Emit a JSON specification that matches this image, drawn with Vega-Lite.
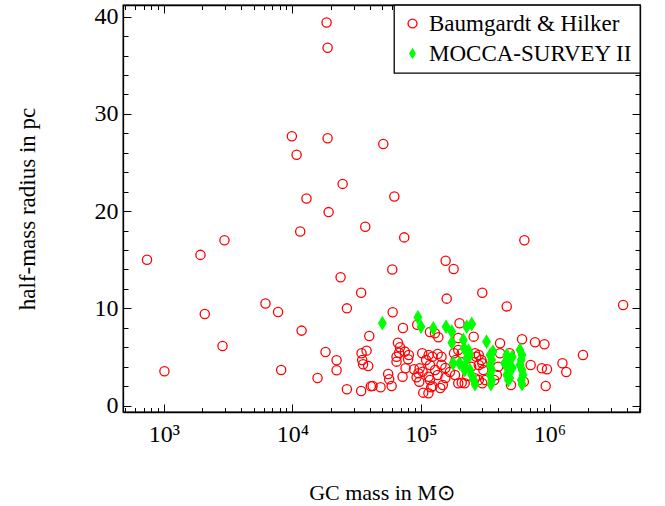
{
  "$schema": "https://vega.github.io/schema/vega-lite/v6.json",
  "width": 517,
  "height": 407,
  "autosize": {"type": "none"},
  "padding": {"left": 123, "top": 5, "right": 25, "bottom": 94},
  "background": "white",
  "data": {"values": [
    {"m": 18450, "r": 39.4, "s": "Baumgardt & Hilker"},
    {"m": 18790, "r": 36.8, "s": "Baumgardt & Hilker"},
    {"m": 9910, "r": 27.7, "s": "Baumgardt & Hilker"},
    {"m": 18790, "r": 27.5, "s": "Baumgardt & Hilker"},
    {"m": 50930, "r": 26.9, "s": "Baumgardt & Hilker"},
    {"m": 10790, "r": 25.8, "s": "Baumgardt & Hilker"},
    {"m": 24600, "r": 22.8, "s": "Baumgardt & Hilker"},
    {"m": 12880, "r": 21.3, "s": "Baumgardt & Hilker"},
    {"m": 62090, "r": 21.5, "s": "Baumgardt & Hilker"},
    {"m": 19140, "r": 19.9, "s": "Baumgardt & Hilker"},
    {"m": 11510, "r": 17.9, "s": "Baumgardt & Hilker"},
    {"m": 36900, "r": 18.4, "s": "Baumgardt & Hilker"},
    {"m": 74130, "r": 17.3, "s": "Baumgardt & Hilker"},
    {"m": 741, "r": 15.0, "s": "Baumgardt & Hilker"},
    {"m": 1930, "r": 15.5, "s": "Baumgardt & Hilker"},
    {"m": 2965, "r": 17.0, "s": "Baumgardt & Hilker"},
    {"m": 23710, "r": 13.2, "s": "Baumgardt & Hilker"},
    {"m": 59840, "r": 14.0, "s": "Baumgardt & Hilker"},
    {"m": 34280, "r": 11.6, "s": "Baumgardt & Hilker"},
    {"m": 6180, "r": 10.5, "s": "Baumgardt & Hilker"},
    {"m": 636800, "r": 17.0, "s": "Baumgardt & Hilker"},
    {"m": 155600, "r": 14.9, "s": "Baumgardt & Hilker"},
    {"m": 179500, "r": 14.05, "s": "Baumgardt & Hilker"},
    {"m": 158500, "r": 11.0, "s": "Baumgardt & Hilker"},
    {"m": 299900, "r": 11.6, "s": "Baumgardt & Hilker"},
    {"m": 464500, "r": 10.2, "s": "Baumgardt & Hilker"},
    {"m": 3733000, "r": 10.35, "s": "Baumgardt & Hilker"},
    {"m": 26550, "r": 10.0, "s": "Baumgardt & Hilker"},
    {"m": 60260, "r": 9.6, "s": "Baumgardt & Hilker"},
    {"m": 1012, "r": 3.53, "s": "Baumgardt & Hilker"},
    {"m": 2084, "r": 9.42, "s": "Baumgardt & Hilker"},
    {"m": 2864, "r": 6.13, "s": "Baumgardt & Hilker"},
    {"m": 7745, "r": 9.63, "s": "Baumgardt & Hilker"},
    {"m": 8185, "r": 3.66, "s": "Baumgardt & Hilker"},
    {"m": 11800, "r": 7.71, "s": "Baumgardt & Hilker"},
    {"m": 15700, "r": 2.84, "s": "Baumgardt & Hilker"},
    {"m": 18110, "r": 5.51, "s": "Baumgardt & Hilker"},
    {"m": 22080, "r": 4.66, "s": "Baumgardt & Hilker"},
    {"m": 22080, "r": 3.63, "s": "Baumgardt & Hilker"},
    {"m": 26550, "r": 1.68, "s": "Baumgardt & Hilker"},
    {"m": 34280, "r": 1.5, "s": "Baumgardt & Hilker"},
    {"m": 34510, "r": 5.38, "s": "Baumgardt & Hilker"},
    {"m": 37760, "r": 5.65, "s": "Baumgardt & Hilker"},
    {"m": 34910, "r": 4.69, "s": "Baumgardt & Hilker"},
    {"m": 35480, "r": 4.25, "s": "Baumgardt & Hilker"},
    {"m": 38900, "r": 4.07, "s": "Baumgardt & Hilker"},
    {"m": 39630, "r": 7.16, "s": "Baumgardt & Hilker"},
    {"m": 40740, "r": 2.0, "s": "Baumgardt & Hilker"},
    {"m": 72440, "r": 7.98, "s": "Baumgardt & Hilker"},
    {"m": 93540, "r": 8.32, "s": "Baumgardt & Hilker"},
    {"m": 117500, "r": 7.57, "s": "Baumgardt & Hilker"},
    {"m": 66220, "r": 6.47, "s": "Baumgardt & Hilker"},
    {"m": 68710, "r": 6.0, "s": "Baumgardt & Hilker"},
    {"m": 67610, "r": 5.44, "s": "Baumgardt & Hilker"},
    {"m": 64570, "r": 5.03, "s": "Baumgardt & Hilker"},
    {"m": 64570, "r": 4.52, "s": "Baumgardt & Hilker"},
    {"m": 74990, "r": 5.55, "s": "Baumgardt & Hilker"},
    {"m": 80540, "r": 5.2, "s": "Baumgardt & Hilker"},
    {"m": 79430, "r": 4.76, "s": "Baumgardt & Hilker"},
    {"m": 102300, "r": 5.38, "s": "Baumgardt & Hilker"},
    {"m": 109600, "r": 4.69, "s": "Baumgardt & Hilker"},
    {"m": 75860, "r": 3.84, "s": "Baumgardt & Hilker"},
    {"m": 88310, "r": 3.73, "s": "Baumgardt & Hilker"},
    {"m": 97720, "r": 3.84, "s": "Baumgardt & Hilker"},
    {"m": 95500, "r": 3.32, "s": "Baumgardt & Hilker"},
    {"m": 92470, "r": 2.91, "s": "Baumgardt & Hilker"},
    {"m": 97050, "r": 2.46, "s": "Baumgardt & Hilker"},
    {"m": 103000, "r": 3.49, "s": "Baumgardt & Hilker"},
    {"m": 114800, "r": 2.97, "s": "Baumgardt & Hilker"},
    {"m": 55590, "r": 3.25, "s": "Baumgardt & Hilker"},
    {"m": 56620, "r": 2.7, "s": "Baumgardt & Hilker"},
    {"m": 59160, "r": 2.02, "s": "Baumgardt & Hilker"},
    {"m": 71940, "r": 2.97, "s": "Baumgardt & Hilker"},
    {"m": 104200, "r": 1.33, "s": "Baumgardt & Hilker"},
    {"m": 42070, "r": 2.02, "s": "Baumgardt & Hilker"},
    {"m": 48530, "r": 1.88, "s": "Baumgardt & Hilker"},
    {"m": 199500, "r": 8.47, "s": "Baumgardt & Hilker"},
    {"m": 128500, "r": 7.44, "s": "Baumgardt & Hilker"},
    {"m": 136500, "r": 7.03, "s": "Baumgardt & Hilker"},
    {"m": 195000, "r": 6.95, "s": "Baumgardt & Hilker"},
    {"m": 257000, "r": 7.09, "s": "Baumgardt & Hilker"},
    {"m": 412100, "r": 6.41, "s": "Baumgardt & Hilker"},
    {"m": 114800, "r": 5.2, "s": "Baumgardt & Hilker"},
    {"m": 122500, "r": 5.03, "s": "Baumgardt & Hilker"},
    {"m": 134900, "r": 5.31, "s": "Baumgardt & Hilker"},
    {"m": 144500, "r": 5.03, "s": "Baumgardt & Hilker"},
    {"m": 144500, "r": 4.2, "s": "Baumgardt & Hilker"},
    {"m": 154900, "r": 3.87, "s": "Baumgardt & Hilker"},
    {"m": 167900, "r": 3.46, "s": "Baumgardt & Hilker"},
    {"m": 128800, "r": 3.66, "s": "Baumgardt & Hilker"},
    {"m": 117500, "r": 4.18, "s": "Baumgardt & Hilker"},
    {"m": 134900, "r": 3.15, "s": "Baumgardt & Hilker"},
    {"m": 154900, "r": 2.84, "s": "Baumgardt & Hilker"},
    {"m": 184100, "r": 3.15, "s": "Baumgardt & Hilker"},
    {"m": 117500, "r": 2.63, "s": "Baumgardt & Hilker"},
    {"m": 123000, "r": 2.0, "s": "Baumgardt & Hilker"},
    {"m": 141300, "r": 1.8, "s": "Baumgardt & Hilker"},
    {"m": 180700, "r": 5.38, "s": "Baumgardt & Hilker"},
    {"m": 195000, "r": 5.72, "s": "Baumgardt & Hilker"},
    {"m": 207500, "r": 5.38, "s": "Baumgardt & Hilker"},
    {"m": 186200, "r": 4.69, "s": "Baumgardt & Hilker"},
    {"m": 263000, "r": 5.38, "s": "Baumgardt & Hilker"},
    {"m": 269200, "r": 5.03, "s": "Baumgardt & Hilker"},
    {"m": 281800, "r": 5.2, "s": "Baumgardt & Hilker"},
    {"m": 295100, "r": 4.69, "s": "Baumgardt & Hilker"},
    {"m": 299900, "r": 4.35, "s": "Baumgardt & Hilker"},
    {"m": 281800, "r": 4.18, "s": "Baumgardt & Hilker"},
    {"m": 305500, "r": 3.66, "s": "Baumgardt & Hilker"},
    {"m": 316200, "r": 2.63, "s": "Baumgardt & Hilker"},
    {"m": 299900, "r": 2.29, "s": "Baumgardt & Hilker"},
    {"m": 281800, "r": 2.63, "s": "Baumgardt & Hilker"},
    {"m": 207500, "r": 2.36, "s": "Baumgardt & Hilker"},
    {"m": 195000, "r": 2.29, "s": "Baumgardt & Hilker"},
    {"m": 147900, "r": 2.12, "s": "Baumgardt & Hilker"},
    {"m": 120200, "r": 1.88, "s": "Baumgardt & Hilker"},
    {"m": 114300, "r": 1.27, "s": "Baumgardt & Hilker"},
    {"m": 412100, "r": 5.38, "s": "Baumgardt & Hilker"},
    {"m": 398100, "r": 4.0, "s": "Baumgardt & Hilker"},
    {"m": 389000, "r": 3.15, "s": "Baumgardt & Hilker"},
    {"m": 371500, "r": 2.63, "s": "Baumgardt & Hilker"},
    {"m": 245500, "r": 4.0, "s": "Baumgardt & Hilker"},
    {"m": 229100, "r": 3.05, "s": "Baumgardt & Hilker"},
    {"m": 218800, "r": 2.29, "s": "Baumgardt & Hilker"},
    {"m": 263000, "r": 2.81, "s": "Baumgardt & Hilker"},
    {"m": 610900, "r": 6.82, "s": "Baumgardt & Hilker"},
    {"m": 770900, "r": 6.51, "s": "Baumgardt & Hilker"},
    {"m": 912000, "r": 6.3, "s": "Baumgardt & Hilker"},
    {"m": 1820000, "r": 5.2, "s": "Baumgardt & Hilker"},
    {"m": 1259000, "r": 4.35, "s": "Baumgardt & Hilker"},
    {"m": 1349000, "r": 3.46, "s": "Baumgardt & Hilker"},
    {"m": 871000, "r": 3.84, "s": "Baumgardt & Hilker"},
    {"m": 955000, "r": 3.73, "s": "Baumgardt & Hilker"},
    {"m": 712900, "r": 4.18, "s": "Baumgardt & Hilker"},
    {"m": 933300, "r": 2.02, "s": "Baumgardt & Hilker"},
    {"m": 489800, "r": 5.38, "s": "Baumgardt & Hilker"},
    {"m": 501200, "r": 2.12, "s": "Baumgardt & Hilker"},
    {"m": 631000, "r": 2.46, "s": "Baumgardt & Hilker"},
    {"m": 50120, "r": 8.47, "s": "MOCCA-SURVEY II"},
    {"m": 94620, "r": 9.08, "s": "MOCCA-SURVEY II"},
    {"m": 100000, "r": 8.12, "s": "MOCCA-SURVEY II"},
    {"m": 124700, "r": 7.95, "s": "MOCCA-SURVEY II"},
    {"m": 156700, "r": 8.12, "s": "MOCCA-SURVEY II"},
    {"m": 173800, "r": 7.6, "s": "MOCCA-SURVEY II"},
    {"m": 227000, "r": 8.12, "s": "MOCCA-SURVEY II"},
    {"m": 248300, "r": 8.4, "s": "MOCCA-SURVEY II"},
    {"m": 173800, "r": 6.47, "s": "MOCCA-SURVEY II"},
    {"m": 213800, "r": 6.75, "s": "MOCCA-SURVEY II"},
    {"m": 323600, "r": 6.57, "s": "MOCCA-SURVEY II"},
    {"m": 216300, "r": 5.9, "s": "MOCCA-SURVEY II"},
    {"m": 234400, "r": 5.65, "s": "MOCCA-SURVEY II"},
    {"m": 239900, "r": 5.2, "s": "MOCCA-SURVEY II"},
    {"m": 227000, "r": 4.87, "s": "MOCCA-SURVEY II"},
    {"m": 177800, "r": 4.35, "s": "MOCCA-SURVEY II"},
    {"m": 199500, "r": 4.35, "s": "MOCCA-SURVEY II"},
    {"m": 217300, "r": 4.0, "s": "MOCCA-SURVEY II"},
    {"m": 218800, "r": 3.66, "s": "MOCCA-SURVEY II"},
    {"m": 239900, "r": 3.66, "s": "MOCCA-SURVEY II"},
    {"m": 248300, "r": 3.15, "s": "MOCCA-SURVEY II"},
    {"m": 257000, "r": 2.63, "s": "MOCCA-SURVEY II"},
    {"m": 263000, "r": 2.2, "s": "MOCCA-SURVEY II"},
    {"m": 344400, "r": 5.2, "s": "MOCCA-SURVEY II"},
    {"m": 354800, "r": 4.69, "s": "MOCCA-SURVEY II"},
    {"m": 344400, "r": 4.18, "s": "MOCCA-SURVEY II"},
    {"m": 354800, "r": 3.66, "s": "MOCCA-SURVEY II"},
    {"m": 344400, "r": 3.15, "s": "MOCCA-SURVEY II"},
    {"m": 354800, "r": 2.63, "s": "MOCCA-SURVEY II"},
    {"m": 350000, "r": 2.2, "s": "MOCCA-SURVEY II"},
    {"m": 363100, "r": 5.55, "s": "MOCCA-SURVEY II"},
    {"m": 464500, "r": 5.2, "s": "MOCCA-SURVEY II"},
    {"m": 478600, "r": 4.69, "s": "MOCCA-SURVEY II"},
    {"m": 464500, "r": 3.15, "s": "MOCCA-SURVEY II"},
    {"m": 470000, "r": 3.9, "s": "MOCCA-SURVEY II"},
    {"m": 478600, "r": 2.63, "s": "MOCCA-SURVEY II"},
    {"m": 446700, "r": 4.35, "s": "MOCCA-SURVEY II"},
    {"m": 588800, "r": 5.72, "s": "MOCCA-SURVEY II"},
    {"m": 610900, "r": 5.2, "s": "MOCCA-SURVEY II"},
    {"m": 602600, "r": 4.69, "s": "MOCCA-SURVEY II"},
    {"m": 588800, "r": 4.18, "s": "MOCCA-SURVEY II"},
    {"m": 610900, "r": 3.66, "s": "MOCCA-SURVEY II"},
    {"m": 622300, "r": 3.15, "s": "MOCCA-SURVEY II"},
    {"m": 602600, "r": 2.63, "s": "MOCCA-SURVEY II"},
    {"m": 610900, "r": 2.2, "s": "MOCCA-SURVEY II"},
    {"m": 512900, "r": 5.0, "s": "MOCCA-SURVEY II"},
    {"m": 512900, "r": 3.87, "s": "MOCCA-SURVEY II"},
    {"m": 489800, "r": 2.84, "s": "MOCCA-SURVEY II"}
  ]},
  "layer": [
    {
      "mark": {"type": "point", "opacity": 1, "strokeWidth": 1.3, "clip": true},
      "encoding": {
        "x": {
          "field": "m", "type": "quantitative",
          "scale": {"type": "log", "domain": [482, 5050000], "nice": false},
          "axis": {
            "orient": "bottom",
            "title": "GC mass in M⊙",
            "values": [500,600,700,800,900,1000,2000,3000,4000,5000,6000,7000,8000,9000,10000,20000,30000,40000,50000,60000,70000,80000,90000,100000,200000,300000,400000,500000,600000,700000,800000,900000,1000000,2000000,3000000,4000000,5000000],
            "labelExpr": "datum.value == 1000 ? '10³' : datum.value == 10000 ? '10⁴' : datum.value == 100000 ? '10⁵' : datum.value == 1000000 ? '10⁶' : ''",
            "tickSize": {"condition": {"test": "indexof([1000,10000,100000,1000000], datum.value) >= 0", "value": -8}, "value": -4.5},
            "labelFont": "Liberation Serif",
            "labelFontSize": 24,
            "titleFont": "Liberation Serif",
            "titleFontSize": 22,
            "labelPadding": 18,
            "titlePadding": 33
          }
        },
        "y": {
          "field": "r", "type": "quantitative",
          "scale": {"domain": [-0.66, 41.2], "nice": false, "zero": false},
          "axis": {
            "orient": "left",
            "title": "half-mass radius in pc",
            "values": [0,2,4,6,8,10,12,14,16,18,20,22,24,26,28,30,32,34,36,38,40],
            "labelExpr": "datum.value % 10 == 0 ? datum.value : ''",
            "tickSize": {"condition": {"test": "datum.value % 10 == 0", "value": -8}, "value": -5},
            "labelFont": "Liberation Serif",
            "labelFontSize": 24,
            "titleFont": "Liberation Serif",
            "titleFontSize": 23,
            "labelPadding": 13,
            "titlePadding": 55
          }
        },
        "shape": {
          "field": "s", "type": "nominal",
          "scale": {"domain": ["Baumgardt & Hilker", "MOCCA-SURVEY II"], "range": ["circle", "M0,-1L0.6,0L0,1L-0.6,0Z"]},
          "legend": {"title": null}
        },
        "stroke": {
          "field": "s", "type": "nominal",
          "scale": {"domain": ["Baumgardt & Hilker", "MOCCA-SURVEY II"], "range": ["#ff0000", "#00ff00"]},
          "legend": {"title": null}
        },
        "fill": {
          "field": "s", "type": "nominal",
          "scale": {"domain": ["Baumgardt & Hilker", "MOCCA-SURVEY II"], "range": ["transparent", "#00ff00"]},
          "legend": {"title": null}
        },
        "size": {"condition": {"test": "datum.s == 'MOCCA-SURVEY II'", "value": 150}, "value": 85}
      }
    },
    {
      "mark": {"type": "point", "opacity": 0},
      "encoding": {
        "x": {
          "field": "m", "type": "quantitative",
          "axis": {
            "orient": "top", "title": null, "labels": false,
            "values": [500,600,700,800,900,1000,2000,3000,4000,5000,6000,7000,8000,9000,10000,20000,30000,40000,50000,60000,70000,80000,90000,100000,200000,300000,400000,500000,600000,700000,800000,900000,1000000,2000000,3000000,4000000,5000000],
            "tickSize": {"condition": {"test": "indexof([1000,10000,100000,1000000], datum.value) >= 0", "value": -8}, "value": -4.5}
          }
        },
        "y": {
          "field": "r", "type": "quantitative",
          "axis": {
            "orient": "right", "title": null, "labels": false,
            "values": [0,2,4,6,8,10,12,14,16,18,20,22,24,26,28,30,32,34,36,38,40],
            "tickSize": {"condition": {"test": "datum.value % 10 == 0", "value": -8}, "value": -5}
          }
        }
      }
    }
  ],
  "resolve": {"axis": {"x": "independent", "y": "independent"}},
  "config": {
    "view": {"stroke": "black", "strokeWidth": 1.3},
    "font": "Liberation Serif",
    "axis": {
      "grid": false,
      "domainColor": "black",
      "domainWidth": 1.3,
      "tickColor": "black",
      "tickWidth": 1,
      "labelFont": "Liberation Serif",
      "labelColor": "black",
      "labelOverlap": false,
      "labelBound": false,
      "labelFlush": false,
      "titleFont": "Liberation Serif",
      "titleFontWeight": "normal",
      "titleColor": "black"
    },
    "legend": {
      "orient": "top-right",
      "offset": 0,
      "strokeColor": "black",
      "strokeWidth": 1.3,
      "fillColor": "white",
      "padding": 7,
      "cornerRadius": 0,
      "labelFont": "Liberation Serif",
      "labelFontSize": 23,
      "labelColor": "black",
      "labelOffset": 5,
      "symbolSize": 80,
      "symbolStrokeWidth": 1.3,
      "rowPadding": 6,
      "labelLimit": 400
    }
  }
}
